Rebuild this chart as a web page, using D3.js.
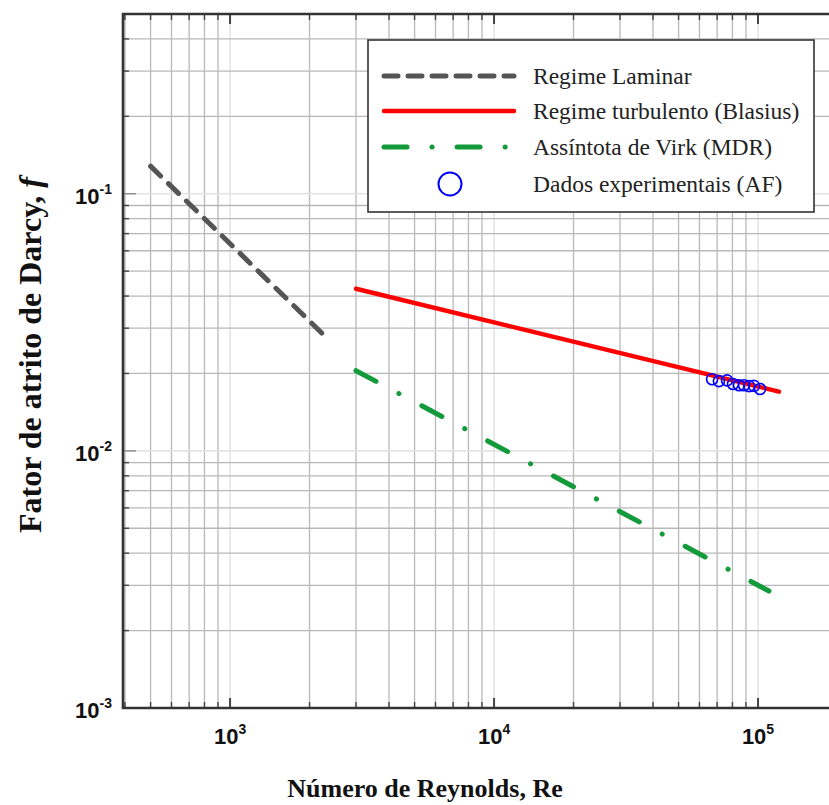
<!DOCTYPE html>
<html>
<head>
<meta charset="utf-8">
<script src="https://cdn.jsdelivr.net/npm/d3@7"></script>
<style>
  body { margin: 0; background: #fff; }
  svg { display: block; }
</style>
</head>
<body>
<svg id="chart" width="829" height="805"></svg>
<script>
// --- DATA ---
const laminarRe = [500, 2300];
const laminarF = [0.128, 0.0278];
const blasiusRe = [3000, 120000];
const blasiusF = [0.0427, 0.0170];
const virkRe = [3000, 110000];
const virkF = [0.0205, 0.00285];
const expRe = [67000, 71100, 76300, 80400, 84700, 88500, 92500, 96600, 101800];
const expF = [0.0190, 0.01867, 0.0188, 0.0182, 0.0180, 0.0180, 0.01786, 0.0179, 0.0174];
const xMajorTicks = [1e3, 1e4, 1e5];
const xTickExp = ["3", "4", "5"];
const yMajorTicks = [1e-3, 1e-2, 1e-1];
const yTickExp = ["-3", "-2", "-1"];
const legendLabels = ["Regime Laminar", "Regime turbulento (Blasius)", "Assíntota de Virk (MDR)", "Dados experimentais (AF)"];

(function() {
    // --- SETUP ---
    const svg = d3.select("#chart");
    const pLeft = 123, pTop = 14, pBottom = 708, pRight = 829;

    const x = d3.scaleLog().domain([400, 2e5]).range([125, 837.5]);
    const y = d3.scaleLog().domain([1e-3, 0.5]).range([pBottom, pTop]);

    const isMajor = v => Math.abs(Math.log10(v) - Math.round(Math.log10(v))) < 1e-9;

    svg.append("defs").append("clipPath").attr("id", "plotclip")
        .append("rect").attr("x", pLeft).attr("y", pTop).attr("width", pRight - pLeft).attr("height", pBottom - pTop);

    // Grid
    const grid = svg.append("g").attr("clip-path", "url(#plotclip)");
    const xTicks = x.ticks();
    const yTicks = y.ticks();
    grid.selectAll("line.vgrid").data(xTicks).enter().append("line")
        .attr("x1", d => x(d)).attr("x2", d => x(d)).attr("y1", pTop).attr("y2", pBottom)
        .attr("stroke", d => isMajor(d) ? "#e4e4e4" : "#b8b8b8")
        .attr("stroke-width", d => isMajor(d) ? 1.6 : 1.3);
    grid.selectAll("line.hgrid").data(yTicks).enter().append("line")
        .attr("y1", d => y(d)).attr("y2", d => y(d)).attr("x1", pLeft).attr("x2", pRight)
        .attr("stroke", d => isMajor(d) ? "#e4e4e4" : "#b8b8b8")
        .attr("stroke-width", d => isMajor(d) ? 1.6 : 1.3);

    // Ticks (inside)
    const ticks = svg.append("g").attr("stroke", "#444").attr("clip-path", "url(#plotclip)");
    xTicks.forEach(d => {
        const len = isMajor(d) ? 10 : 6;
        const w = isMajor(d) ? 2 : 1.4;
        ticks.append("line").attr("x1", x(d)).attr("x2", x(d)).attr("y1", pBottom).attr("y2", pBottom - len).attr("stroke-width", w);
        ticks.append("line").attr("x1", x(d)).attr("x2", x(d)).attr("y1", pTop).attr("y2", pTop + len).attr("stroke-width", w);
    });
    yTicks.forEach(d => {
        const len = isMajor(d) ? 13 : 6;
        ticks.append("line").attr("y1", y(d)).attr("y2", y(d)).attr("x1", pLeft).attr("x2", pLeft + len)
            .attr("stroke-width", 1.4).attr("stroke", isMajor(d) ? "#888" : "#444");
    });

    // Frame
    svg.append("path")
        .attr("d", `M${pRight},${pTop}H${pLeft}V${pBottom}H${pRight}`)
        .attr("fill", "none").attr("stroke", "#333").attr("stroke-width", 2.6);

    // Curves
    const plot = svg.append("g").attr("clip-path", "url(#plotclip)");
    const line = d3.line().x(d => x(d[0])).y(d => y(d[1]));

    plot.append("path").datum(d3.zip(laminarRe, laminarF))
        .attr("d", line).attr("fill", "none").attr("stroke", "#555")
        .attr("stroke-width", 5).attr("stroke-linecap", "round").attr("stroke-dasharray", "14 11");
    plot.append("path").datum(d3.zip(blasiusRe, blasiusF))
        .attr("d", line).attr("fill", "none").attr("stroke", "#ff0000")
        .attr("stroke-width", 4.5).attr("stroke-linecap", "round");
    const virk = plot.append("path").datum(d3.zip(virkRe, virkF))
        .attr("d", line).attr("fill", "none").attr("stroke", "#139a3a")
        .attr("stroke-width", 5).attr("stroke-linecap", "round");
    // stretch dash-dot pattern so the line starts and ends on a dash
    const vLen = virk.node().getTotalLength();
    const dash = 21, gap = 24;
    const period = dash + 2 * gap;
    const n = Math.round((vLen - dash) / period);
    const k = (vLen - dash) / (n * period);
    virk.attr("stroke-dasharray", [dash * k, gap * k, 0.1, gap * k].join(" "));

    plot.selectAll("circle.exp").data(d3.zip(expRe, expF)).enter().append("circle")
        .attr("cx", d => x(d[0])).attr("cy", d => y(d[1])).attr("r", 5.5)
        .attr("fill", "none").attr("stroke", "#0000ff").attr("stroke-width", 1.6);

    // Tick labels
    const tl = svg.append("g").attr("font-family", "'Liberation Sans', Arial, sans-serif").attr("font-weight", "bold").attr("fill", "#111");
    xMajorTicks.forEach((d, i) => {
        const t = tl.append("text").attr("x", x(d)).attr("y", 744).attr("text-anchor", "middle").attr("font-size", 22);
        t.append("tspan").text("10");
        t.append("tspan").attr("dy", -10).attr("font-size", 14).text(xTickExp[i]);
    });
    yMajorTicks.forEach((d, i) => {
        const t = tl.append("text").attr("x", 112).attr("y", y(d) + 10).attr("text-anchor", "end").attr("font-size", 22);
        t.append("tspan").text("10");
        t.append("tspan").attr("dy", -10).attr("font-size", 14).text(yTickExp[i]);
    });

    // Axis titles
    const serif = "'Liberation Serif', 'Times New Roman', serif";
    svg.append("text").attr("x", 425).attr("y", 797).attr("text-anchor", "middle")
        .attr("font-family", serif).attr("font-weight", "bold").attr("font-size", 26).attr("fill", "#111")
        .text("Número de Reynolds, Re");
    const yt = svg.append("text").attr("transform", "translate(41,355) rotate(-90)").attr("text-anchor", "middle")
        .attr("font-family", serif).attr("font-weight", "bold").attr("font-size", 32).attr("fill", "#111");
    yt.append("tspan").text("Fator de atrito de Darcy, ");
    yt.append("tspan").attr("font-style", "italic").text("f");

    // Legend
    const lg = svg.append("g");
    lg.append("rect").attr("x", 368).attr("y", 40).attr("width", 446).attr("height", 172)
        .attr("fill", "#fff").attr("stroke", "#333").attr("stroke-width", 1.6);
    const rowY = [76, 111, 147, 184];
    const styles = [
        { stroke: "#555", w: 5, dash: "14 10" },
        { stroke: "#ff0000", w: 4.5, dash: null },
        { stroke: "#139a3a", w: 5, dash: "23 25 0.1 25" }
    ];
    styles.forEach((s, i) => {
        lg.append("line").attr("x1", 384).attr("x2", 514).attr("y1", rowY[i]).attr("y2", rowY[i])
            .attr("stroke", s.stroke).attr("stroke-width", s.w).attr("stroke-linecap", "round")
            .attr("stroke-dasharray", s.dash);
    });
    lg.append("circle").attr("cx", 450).attr("cy", rowY[3]).attr("r", 11.5)
        .attr("fill", "none").attr("stroke", "#0000ff").attr("stroke-width", 2);
    lg.selectAll("text.leg").data(legendLabels).enter().append("text")
        .attr("x", 533).attr("y", (d, i) => rowY[i] + 8)
        .attr("font-family", serif).attr("font-size", 23.5).attr("fill", "#222")
        .text(d => d);
})();
</script>
</body>
</html>
